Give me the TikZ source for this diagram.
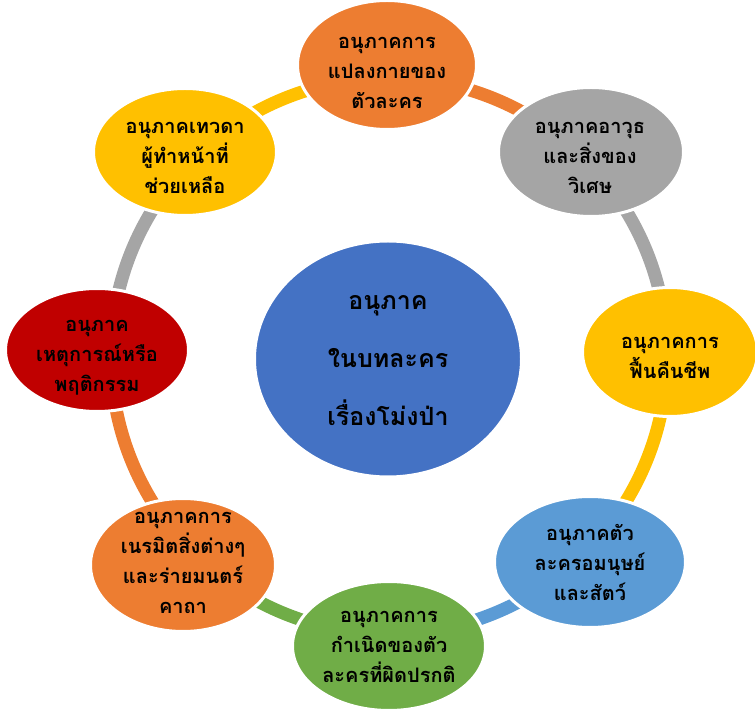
\documentclass[tikz,border=0pt]{standalone}
\usepackage{fontspec}
\newfontfamily\thaifont[Script=Thai]{Loma}
\usetikzlibrary{shapes.geometric}
\definecolor{cOrange}{HTML}{ED7D31}
\definecolor{cGray}{HTML}{A5A5A5}
\definecolor{cYellow}{HTML}{FFC000}
\definecolor{cLBlue}{HTML}{5B9BD5}
\definecolor{cGreen}{HTML}{70AD47}
\definecolor{cRed}{HTML}{C00000}
\definecolor{cBlue}{HTML}{4472C4}
\begin{document}
\begin{tikzpicture}[x=1pt,y=1pt,
  blob/.style={ellipse, draw=white, line width=3pt, inner sep=0pt},
  lbl/.style={font=\thaifont\bfseries\fontsize{20}{30}\selectfont, align=center, text=black, inner sep=0pt},
  biglbl/.style={font=\thaifont\bfseries\fontsize{25}{58}\selectfont, align=center, text=black, inner sep=0pt},
  ring/.style={line width=13pt}]
\useasboundingbox (0,0) rectangle (755,710);
\coordinate (o) at (389,354);
% ring segments
\foreach \a/\c in {45/cOrange, 0/cGray, -45/cYellow, -90/cLBlue, -135/cGreen, -180/cOrange, -225/cGray, -270/cYellow}
  \draw[ring, \c] ([shift={(\a:278)}]o) arc[start angle=\a, end angle=\a+45, radius=278];
% ellipses
\node[blob, fill=cBlue, minimum width=267pt, minimum height=236pt] (c) at (388,351) {};
\node[blob, fill=cOrange, minimum width=179pt, minimum height=129pt] (n1) at (387,645) {};
\node[blob, fill=cGray, minimum width=185pt, minimum height=129pt] (n2) at (591,558) {};
\node[blob, fill=cYellow, minimum width=175pt, minimum height=129pt] (n3) at (670,358) {};
\node[blob, fill=cLBlue, minimum width=191pt, minimum height=131pt] (n4) at (590,148) {};
\node[blob, fill=cGreen, minimum width=193pt, minimum height=129pt] (n5) at (389,64) {};
\node[blob, fill=cOrange, minimum width=185pt, minimum height=133pt] (n6) at (183,145) {};
\node[blob, fill=cRed, minimum width=183pt, minimum height=123pt] (n7) at (97,360) {};
\node[blob, fill=cYellow, minimum width=183pt, minimum height=127pt] (n8) at (185,558) {};
% labels
\node[biglbl] (tc) at (388,349) {อนุภาค\\ในบทละคร\\เรื่องโม่งป่า};
\node[lbl] (t1) at (387,637) {อนุภาคการ\\แปลงกายของ\\ตัวละคร};
\node[lbl] (t2) at (590,552) {อนุภาคอาวุธ\\และสิ่งของ\\วิเศษ};
\node[lbl] (t3) at (670,352) {อนุภาคการ\\ฟื้นคืนชีพ};
\node[lbl] (t4) at (590,148) {อนุภาคตัว\\ละครอมนุษย์\\และสัตว์};
\node[lbl] (t5) at (389,63) {อนุภาคการ\\กำเนิดของตัว\\ละครที่ผิดปรกติ};
\node[lbl] (t6) at (183,147) {อนุภาคการ\\เนรมิตสิ่งต่างๆ\\และร่ายมนตร์\\คาถา};
\node[lbl] (t7) at (97,352) {อนุภาค\\เหตุการณ์หรือ\\พฤติกรรม};
\node[lbl] (t8) at (185,552) {อนุภาคเทวดา\\ผู้ทำหน้าที่\\ช่วยเหลือ};
\end{tikzpicture}
\end{document}
